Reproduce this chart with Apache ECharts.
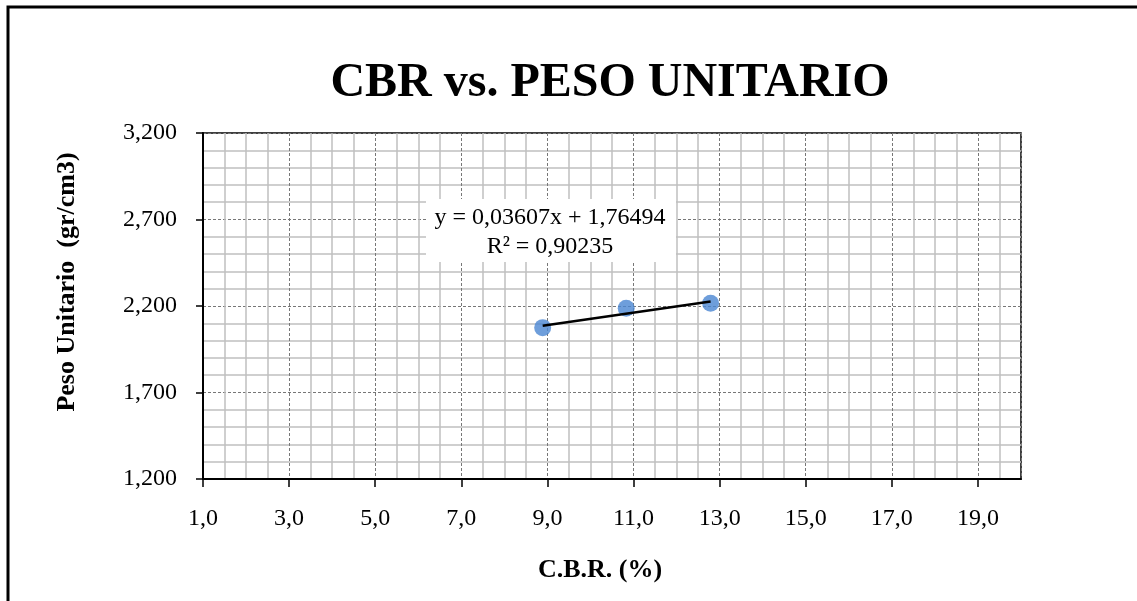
<!DOCTYPE html>
<html>
<head>
<meta charset="utf-8">
<script src="https://cdn.jsdelivr.net/npm/echarts@6/dist/echarts.min.js"></script>
<style>
  html, body { margin: 0; padding: 0; background: #fff; }
  #main { width: 1137px; height: 601px; }
</style>
</head>
<body>
<div id="main"></div>
<script>
// data
var cbr = [8.89, 10.83, 12.79];
var pesoUnitario = [2.075, 2.187, 2.216];
// trendline from the equation printed on the chart
var trendSlope = 0.03607;
var trendIntercept = 1.76494;
var rSquared = 0.90235;

var xTicks = [1, 3, 5, 7, 9, 11, 13, 15, 17, 19];
var yTicks = [1.2, 1.7, 2.2, 2.7, 3.2];

var serif = '"Liberation Serif", "Times New Roman", serif';

function comma(v, d) {
  return v.toFixed(d).replace('.', ',');
}

var points = cbr.map(function (x, i) { return [x, pesoUnitario[i]]; });
var xLo = Math.min.apply(null, cbr);
var xHi = Math.max.apply(null, cbr);
var trend = [
  [xLo, trendSlope * xLo + trendIntercept],
  [xHi, trendSlope * xHi + trendIntercept]
];

var chart = echarts.init(document.getElementById('main'));

var option = {
  animation: false,
  backgroundColor: '#fff',
  title: {
    text: 'CBR vs. PESO UNITARIO',
    left: 605,
    top: 55,
    textAlign: 'center',
    textStyle: { fontFamily: serif, fontSize: 48, fontWeight: 'bold', color: '#000' }
  },
  grid: {
    left: 203, right: 116, top: 133, bottom: 122,
    show: true, borderColor: '#000', borderWidth: 1.5
  },
  xAxis: {
    type: 'value',
    min: xTicks[0],
    max: 20,
    interval: 2,
    axisLine: { lineStyle: { color: '#000', width: 2 } },
    axisTick: { show: true, length: 8, lineStyle: { color: '#000', width: 1.5 } },
    axisLabel: {
      margin: 28, fontFamily: serif, fontSize: 24, color: '#000',
      showMaxLabel: false,
      formatter: function (v) { return xTicks.indexOf(v) >= 0 ? comma(v, 1) : ''; }
    },
    splitLine: { show: true, lineStyle: { color: '#777', width: 1, type: [3, 2] } },
    minorTick: { show: false, splitNumber: 4 },
    minorSplitLine: { show: true, lineStyle: { color: '#c0c0c0', width: 1.5 } }
  },
  yAxis: {
    type: 'value',
    min: yTicks[0],
    max: yTicks[yTicks.length - 1],
    interval: 0.5,
    axisLine: { show: true, lineStyle: { color: '#000', width: 2 } },
    axisTick: { show: true, length: 7, lineStyle: { color: '#000', width: 1.5 } },
    axisLabel: {
      margin: 26, fontFamily: serif, fontSize: 24, color: '#000',
      formatter: function (v) { return comma(v, 3); }
    },
    splitLine: { show: true, lineStyle: { color: '#777', width: 1, type: [3, 2] } },
    minorTick: { show: false, splitNumber: 5 },
    minorSplitLine: { show: true, lineStyle: { color: '#c0c0c0', width: 1.5 } }
  },
  graphic: [
    {
      type: 'polyline',
      shape: { points: [[8, 601], [8, 7], [1137, 7]] },
      style: { stroke: '#000', lineWidth: 3, fill: null },
      z: 100
    },
    // axis titles
    {
      type: 'text',
      x: 600, y: 570,
      style: {
        text: 'C.B.R. (%)', fontFamily: serif, fontSize: 26, fontWeight: 'bold',
        fill: '#000', align: 'center', verticalAlign: 'middle'
      }
    },
    {
      type: 'text',
      x: 67, y: 282,
      rotation: Math.PI / 2,
      style: {
        text: 'Peso Unitario  (gr/cm3)', fontFamily: serif, fontSize: 26, fontWeight: 'bold',
        fill: '#000', align: 'center', verticalAlign: 'middle'
      }
    },
    // trendline label
    {
      type: 'rect',
      shape: { x: 426, y: 199, width: 250, height: 63 },
      style: { fill: '#fff' },
      z: 50
    },
    {
      type: 'text',
      x: 550, y: 232,
      style: {
        text: 'y = ' + comma(trendSlope, 5) + 'x + ' + comma(trendIntercept, 5) + '\nR² = ' + comma(rSquared, 5),
        fontFamily: serif, fontSize: 24, fill: '#000',
        align: 'center', verticalAlign: 'middle', lineHeight: 29
      },
      z: 51
    }
  ],
  series: [
    {
      name: 'Peso Unitario',
      type: 'scatter',
      data: points,
      symbol: 'circle',
      symbolSize: 17,
      itemStyle: { color: '#4A86D2' },
      z: 3
    },
    {
      name: 'Tendencia',
      type: 'line',
      data: trend,
      symbol: 'none',
      lineStyle: { color: '#000', width: 2.5 },
      z: 4
    }
  ]
};

chart.setOption(option);
</script>
</body>
</html>
